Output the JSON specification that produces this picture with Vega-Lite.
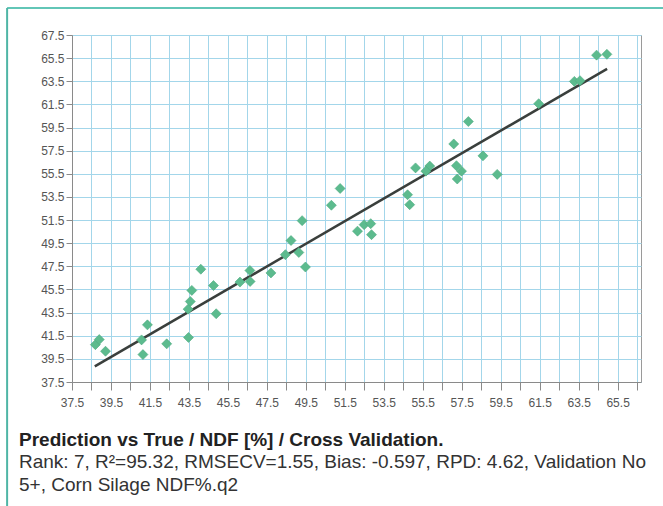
{
  "$schema": "https://vega.github.io/schema/vega-lite/v6.json",
  "width": 569,
  "height": 347,
  "autosize": {"type": "none"},
  "padding": {"left": 72, "top": 35, "right": 22, "bottom": 124},
  "background": "white",
  "config": {
    "view": {"stroke": "#9a9a9a", "strokeWidth": 1},
    "axis": {
      "labelFont": "Liberation Sans",
      "labelFontSize": 12,
      "labelColor": "#555555",
      "domainColor": "#8a8a8a",
      "tickColor": "#8a8a8a",
      "gridColor": "#a3d6ea",
      "gridOpacity": 1,
      "gridWidth": 1,
      "labelOverlap": false,
      "labelFlush": false,
      "title": null
    }
  },
  "title": {
    "text": "Prediction vs True / NDF [%] / Cross Validation.",
    "subtitle": ["Rank: 7, R²=95.32, RMSECV=1.55, Bias: -0.597, RPD: 4.62, Validation No", "5+, Corn Silage NDF%.q2"],
    "orient": "bottom",
    "anchor": "start",
    "frame": "group",
    "dx": -53,
    "offset": -76,
    "font": "Liberation Sans",
    "fontSize": 19,
    "fontWeight": "bold",
    "color": "#222222",
    "subtitleFont": "Liberation Sans",
    "subtitleFontSize": 19,
    "subtitleColor": "#333333",
    "subtitleLineHeight": 23,
    "subtitlePadding": 3
  },
  "datasets": {
    "points": [
      {"actual": 38.70, "predicted": 40.73},
      {"actual": 38.90, "predicted": 41.17},
      {"actual": 39.22, "predicted": 40.16},
      {"actual": 41.14, "predicted": 39.87},
      {"actual": 41.07, "predicted": 41.14},
      {"actual": 41.37, "predicted": 42.44},
      {"actual": 42.36, "predicted": 40.80},
      {"actual": 43.48, "predicted": 41.35},
      {"actual": 43.46, "predicted": 43.80},
      {"actual": 43.57, "predicted": 44.46},
      {"actual": 43.65, "predicted": 45.42},
      {"actual": 44.11, "predicted": 47.25},
      {"actual": 44.76, "predicted": 45.84},
      {"actual": 44.90, "predicted": 43.40},
      {"actual": 51.26, "predicted": 54.23},
      {"actual": 50.81, "predicted": 52.78},
      {"actual": 49.31, "predicted": 51.45},
      {"actual": 48.74, "predicted": 49.73},
      {"actual": 49.14, "predicted": 48.70},
      {"actual": 48.45, "predicted": 48.51},
      {"actual": 49.48, "predicted": 47.44},
      {"actual": 47.71, "predicted": 46.93},
      {"actual": 46.63, "predicted": 47.14},
      {"actual": 46.64, "predicted": 46.19},
      {"actual": 46.12, "predicted": 46.14},
      {"actual": 52.15, "predicted": 50.54},
      {"actual": 52.49, "predicted": 51.10},
      {"actual": 52.83, "predicted": 51.19},
      {"actual": 52.87, "predicted": 50.24},
      {"actual": 57.84, "predicted": 60.02},
      {"actual": 57.09, "predicted": 58.08},
      {"actual": 58.59, "predicted": 57.05},
      {"actual": 57.23, "predicted": 56.20},
      {"actual": 57.49, "predicted": 55.73},
      {"actual": 57.27, "predicted": 55.05},
      {"actual": 59.32, "predicted": 55.45},
      {"actual": 55.13, "predicted": 56.01},
      {"actual": 55.86, "predicted": 56.17},
      {"actual": 55.66, "predicted": 55.73},
      {"actual": 54.72, "predicted": 53.69},
      {"actual": 54.83, "predicted": 52.83},
      {"actual": 64.42, "predicted": 65.76},
      {"actual": 64.95, "predicted": 65.83},
      {"actual": 63.28, "predicted": 63.49},
      {"actual": 63.57, "predicted": 63.55},
      {"actual": 61.45, "predicted": 61.56}
    ],
    "fit": [
      {"actual": 38.67, "predicted": 38.85},
      {"actual": 64.96, "predicted": 64.57}
    ],
    "frame": [
      {"side": "card"}
    ]
  },
  "layer": [
    {
      "data": {"name": "fit"},
      "mark": {"type": "line", "color": "#3a3f3c", "strokeWidth": 2.5},
      "encoding": {
        "x": {
          "field": "actual",
          "type": "quantitative",
          "scale": {"domain": [37.5, 66.7], "nice": false, "zero": false},
          "axis": {
            "values": [37.5, 38.5, 39.5, 40.5, 41.5, 42.5, 43.5, 44.5, 45.5, 46.5, 47.5, 48.5, 49.5, 50.5, 51.5, 52.5, 53.5, 54.5, 55.5, 56.5, 57.5, 58.5, 59.5, 60.5, 61.5, 62.5, 63.5, 64.5, 65.5, 66.5],
            "labelExpr": "(round(datum.value - 37.5) % 2 == 0) ? format(datum.value, '.1f') : ''",
            "tickSize": 8,
            "labelPadding": 7
          }
        },
        "y": {
          "field": "predicted",
          "type": "quantitative",
          "scale": {"domain": [37.5, 67.5], "nice": false, "zero": false},
          "axis": {
            "values": [37.5, 39.5, 41.5, 43.5, 45.5, 47.5, 49.5, 51.5, 53.5, 55.5, 57.5, 59.5, 61.5, 63.5, 65.5, 67.5],
            "format": ".1f",
            "tickSize": 6,
            "labelPadding": 2
          }
        }
      }
    },
    {
      "data": {"name": "points"},
      "mark": {"type": "point", "shape": "diamond", "filled": true, "size": 100, "color": "#5cbb8e", "opacity": 1, "stroke": "#4ea97f", "strokeWidth": 0.6},
      "encoding": {
        "x": {
          "field": "actual",
          "type": "quantitative",
          "scale": {"domain": [37.5, 66.7], "nice": false, "zero": false},
          "axis": {
            "values": [37.5, 38.5, 39.5, 40.5, 41.5, 42.5, 43.5, 44.5, 45.5, 46.5, 47.5, 48.5, 49.5, 50.5, 51.5, 52.5, 53.5, 54.5, 55.5, 56.5, 57.5, 58.5, 59.5, 60.5, 61.5, 62.5, 63.5, 64.5, 65.5, 66.5],
            "labelExpr": "(round(datum.value - 37.5) % 2 == 0) ? format(datum.value, '.1f') : ''",
            "tickSize": 8,
            "labelPadding": 7
          }
        },
        "y": {
          "field": "predicted",
          "type": "quantitative",
          "scale": {"domain": [37.5, 67.5], "nice": false, "zero": false},
          "axis": {
            "values": [37.5, 39.5, 41.5, 43.5, 45.5, 47.5, 49.5, 51.5, 53.5, 55.5, 57.5, 59.5, 61.5, 63.5, 65.5, 67.5],
            "format": ".1f",
            "tickSize": 6,
            "labelPadding": 2
          }
        }
      }
    },
    {
      "data": {"name": "frame"},
      "mark": {"type": "rule", "color": "#62c6b7", "strokeWidth": 2, "clip": false},
      "encoding": {
        "x": {
          "datum": 34.17,
          "type": "quantitative",
          "scale": {"domain": [37.5, 66.7], "nice": false, "zero": false},
          "axis": {
            "values": [37.5, 38.5, 39.5, 40.5, 41.5, 42.5, 43.5, 44.5, 45.5, 46.5, 47.5, 48.5, 49.5, 50.5, 51.5, 52.5, 53.5, 54.5, 55.5, 56.5, 57.5, 58.5, 59.5, 60.5, 61.5, 62.5, 63.5, 64.5, 65.5, 66.5],
            "labelExpr": "(round(datum.value - 37.5) % 2 == 0) ? format(datum.value, '.1f') : ''",
            "tickSize": 8,
            "labelPadding": 7
          }
        },
        "x2": {"datum": 67.9},
        "y": {
          "datum": 69.83,
          "type": "quantitative",
          "scale": {"domain": [37.5, 67.5], "nice": false, "zero": false},
          "axis": {
            "values": [37.5, 39.5, 41.5, 43.5, 45.5, 47.5, 49.5, 51.5, 53.5, 55.5, 57.5, 59.5, 61.5, 63.5, 65.5, 67.5],
            "format": ".1f",
            "tickSize": 6,
            "labelPadding": 2
          }
        }
      }
    },
    {
      "data": {"name": "frame"},
      "mark": {"type": "rule", "color": "#4fb5a6", "strokeWidth": 2, "clip": false},
      "encoding": {
        "x": {
          "datum": 34.17,
          "type": "quantitative",
          "scale": {"domain": [37.5, 66.7], "nice": false, "zero": false},
          "axis": {
            "values": [37.5, 38.5, 39.5, 40.5, 41.5, 42.5, 43.5, 44.5, 45.5, 46.5, 47.5, 48.5, 49.5, 50.5, 51.5, 52.5, 53.5, 54.5, 55.5, 56.5, 57.5, 58.5, 59.5, 60.5, 61.5, 62.5, 63.5, 64.5, 65.5, 66.5],
            "labelExpr": "(round(datum.value - 37.5) % 2 == 0) ? format(datum.value, '.1f') : ''",
            "tickSize": 8,
            "labelPadding": 7
          }
        },
        "y": {
          "datum": 69.83,
          "type": "quantitative",
          "scale": {"domain": [37.5, 67.5], "nice": false, "zero": false},
          "axis": {
            "values": [37.5, 39.5, 41.5, 43.5, 45.5, 47.5, 49.5, 51.5, 53.5, 55.5, 57.5, 59.5, 61.5, 63.5, 65.5, 67.5],
            "format": ".1f",
            "tickSize": 6,
            "labelPadding": 2
          }
        },
        "y2": {"datum": 26.78}
      }
    }
  ]
}
